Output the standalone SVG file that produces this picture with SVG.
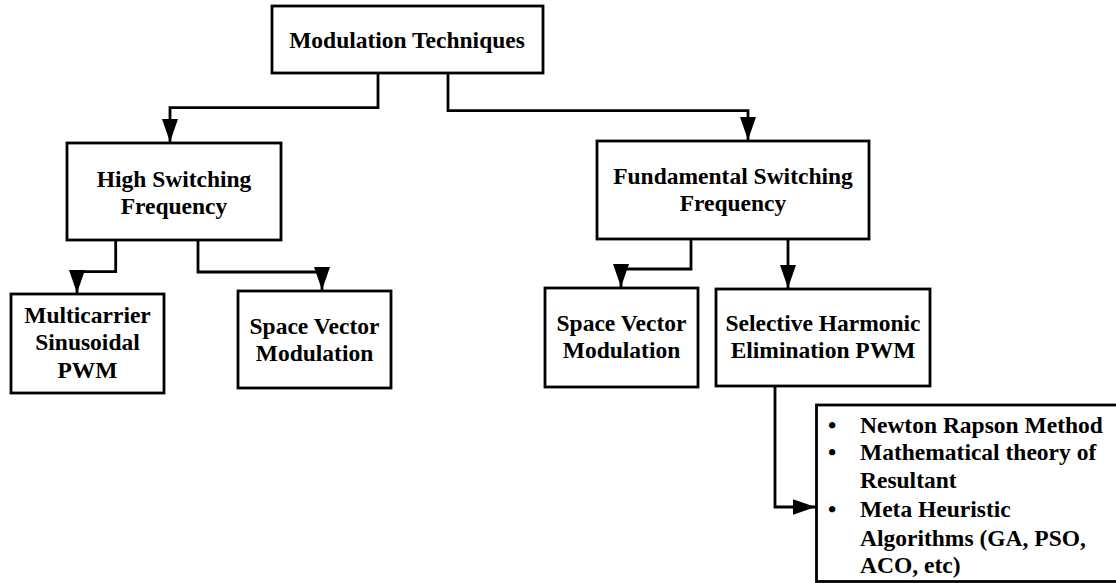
<svg xmlns="http://www.w3.org/2000/svg" width="1116" height="583" viewBox="0 0 1116 583">
  <style>
    .box { fill: #ffffff; stroke: #000000; stroke-width: 2.8; }
    .lbl { font-family: "Liberation Serif", "Times New Roman", serif; font-weight: bold; font-size: 23.5px; fill: #000000; }
    .mid { text-anchor: middle; }
    .wire { fill: none; stroke: #000000; stroke-width: 2.8; marker-end: url(#arrow); }
  </style>
  <defs>
    <marker id="arrow" markerUnits="userSpaceOnUse" markerWidth="24" markerHeight="18" viewBox="0 0 24 18" refX="23" refY="9" orient="auto">
      <path d="M0,1 L23,9 L0,17 Z" fill="#000000"/>
    </marker>
  </defs>
  <rect width="1116" height="583" fill="#ffffff"/>

  <g id="connectors">
    <path class="wire" d="M378,73 V107.7 H170 V142"/>
    <path class="wire" d="M448,73 V110.7 H748 V140"/>
    <path class="wire" d="M115.7,240 V271.7 H77 V293"/>
    <path class="wire" d="M198,240 V272 H322 V290"/>
    <path class="wire" d="M691,239 V269 H621 V287"/>
    <path class="wire" d="M788,239 V288"/>
    <path class="wire" d="M775,387 V507 H815.5"/>
  </g>

  <g id="modulation-techniques">
    <rect class="box" x="272" y="6" width="271" height="67"/>
    <text class="lbl mid" x="407" y="48">Modulation Techniques</text>
  </g>

  <g id="high-switching">
    <rect class="box" x="67" y="143" width="214" height="97"/>
    <text class="lbl mid" x="174" y="187">High Switching</text>
    <text class="lbl mid" x="174" y="213.5">Frequency</text>
  </g>

  <g id="fundamental-switching">
    <rect class="box" x="597" y="141" width="272" height="98"/>
    <text class="lbl mid" x="733" y="183.5">Fundamental Switching</text>
    <text class="lbl mid" x="733" y="210.5">Frequency</text>
  </g>

  <g id="multicarrier-spwm">
    <rect class="box" x="11" y="294" width="153" height="99"/>
    <text class="lbl mid" x="87.5" y="322.5">Multicarrier</text>
    <text class="lbl mid" x="87.5" y="350">Sinusoidal</text>
    <text class="lbl mid" x="87.5" y="378">PWM</text>
  </g>

  <g id="svm-high">
    <rect class="box" x="238" y="291" width="153" height="97"/>
    <text class="lbl mid" x="314.5" y="333.5">Space Vector</text>
    <text class="lbl mid" x="314.5" y="360.5">Modulation</text>
  </g>

  <g id="svm-fundamental">
    <rect class="box" x="545" y="288" width="153" height="99"/>
    <text class="lbl mid" x="621.5" y="330.5">Space Vector</text>
    <text class="lbl mid" x="621.5" y="357.5">Modulation</text>
  </g>

  <g id="she-pwm">
    <rect class="box" x="716" y="289" width="214" height="97"/>
    <text class="lbl mid" x="823" y="330.5">Selective Harmonic</text>
    <text class="lbl mid" x="823" y="357.5">Elimination PWM</text>
  </g>

  <g id="she-methods">
    <rect class="box" x="816.5" y="405" width="310" height="176.5"/>
    <text class="lbl mid" x="832" y="433">•</text>
    <text class="lbl" x="860" y="433">Newton Rapson Method</text>
    <text class="lbl mid" x="832" y="460">•</text>
    <text class="lbl" x="860" y="460">Mathematical theory of</text>
    <text class="lbl" x="860" y="488">Resultant</text>
    <text class="lbl mid" x="832" y="516.5">•</text>
    <text class="lbl" x="860" y="516.5">Meta Heuristic</text>
    <text class="lbl" x="860" y="545.5">Algorithms (GA, PSO,</text>
    <text class="lbl" x="860" y="573">ACO, etc)</text>
  </g>
</svg>
